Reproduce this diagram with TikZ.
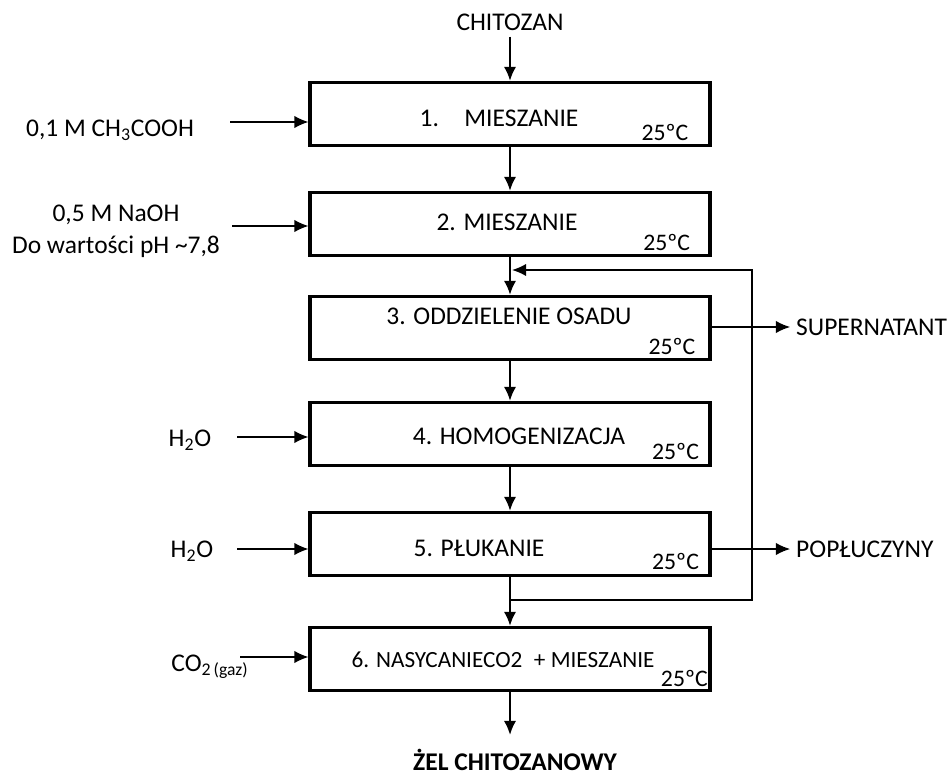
\documentclass[tikz,border=0pt]{standalone}
\usepackage{fontspec}
\setmainfont{Carlito}
\usetikzlibrary{arrows.meta,positioning}

\begin{document}
\begin{tikzpicture}[x=0.02cm,y=-0.02cm,
    font=\fontsize{14.5}{17}\selectfont,
    krok/.style={draw,line width=1.8pt,minimum width=8cm,minimum height=1.26cm},
    temp/.style={anchor=base east,inner sep=0pt,font=\fontsize{13.5}{16}\selectfont},
    glowna/.style={line width=1.3pt,-{Latex[length=8pt,width=7pt]}},
    wlot/.style={line width=0.7pt,-{Latex[length=8pt,width=7pt]}},
    powrot/.style={line width=0.9pt}]
  \useasboundingbox (0,0) rectangle (949,776);

  % etapy procesu
  \node[krok] (k1) at (510,114) {};
  \node[krok] (k2) at (510,224) {};
  \node[krok] (k3) at (510,328) {};
  \node[krok] (k4) at (510,434) {};
  \node[krok] (k5) at (510,544) {};
  \node[krok] (k6) at (510,659) {};

  \node (t1) at (499,118) {1.\quad MIESZANIE};
  \node (t2) at (507,222) {2. MIESZANIE};
  \node (t3) at (509,316) {3. ODDZIELENIE OSADU};
  \node (t4) at (519,436) {4. HOMOGENIZACJA};
  \node (t5) at (479,548) {5. PŁUKANIE};
  \node[font=\fontsize{13.2}{16}\selectfont] (t6) at (503,660) {6. NASYCANIECO2\hspace{0.5em}+ MIESZANIE};

  \node[temp] (c1) at ([xshift=-13pt,yshift=3.5pt]k1.south east) {25ºC};
  \node[temp] (c2) at ([xshift=-12pt,yshift=3.5pt]k2.south east) {25ºC};
  \node[temp] (c3) at ([xshift=-9pt,yshift=3.5pt]k3.south east) {25ºC};
  \node[temp] (c4) at ([xshift=-7pt,yshift=4.5pt]k4.south east) {25ºC};
  \node[temp] (c5) at ([xshift=-7pt,yshift=4.5pt]k5.south east) {25ºC};
  \node[temp] (c6) at ([xshift=-2pt,yshift=3pt]k6.south east) {25ºC};

  % wejscie i wyjscie
  \node (chit) at (510,22) {CHITOZAN};
  \node[font=\fontsize{14.5}{17}\selectfont\bfseries] (zel) at (515,760) {ŻEL CHITOZANOWY};
  \coordinate (koniec) at (510,735);

  \draw[glowna] (chit) -- (k1);
  \draw[glowna] (k1) -- (k2);
  \draw[glowna] (k2) -- (k3);
  \draw[glowna] (k3) -- (k4);
  \draw[glowna] (k4) -- (k5);
  \draw[glowna] (k5) -- (k6);
  \draw[glowna] (k6) -- (koniec);

  % dozowanie z lewej
  \node (we1) at (110,130) {0,1 M CH\textsubscript{3}COOH};
  \node[align=center] (we2) at (116,231) {0,5 M NaOH\\[1pt]Do wartości pH \textasciitilde7,8};
  \node (we4) at (190,440) {H\textsubscript{2}O};
  \node (we5) at (192,551) {H\textsubscript{2}O};
  \node (we6) at (210,667) {CO\textsubscript{2\,{\fontsize{10}{12}\selectfont(gaz)}}};

  \coordinate (p1) at (230,122);
  \coordinate (p2) at (232,226);
  \coordinate (p4) at (237,437);
  \coordinate (p5) at (237,549);
  \coordinate (p6) at (240,657);
  \draw[wlot] (p1) -- (p1 -| k1.west);
  \draw[wlot] (p2) -- (p2 -| k2.west);
  \draw[wlot] (p4) -- (p4 -| k4.west);
  \draw[wlot] (p5) -- (p5 -| k5.west);
  \draw[wlot] (p6) -- (p6 -| k6.west);

  % odbior z prawej
  \node[anchor=west] (sup) at (790,327) {SUPERNATANT};
  \node[anchor=west] (pop) at (790,549) {POPŁUCZYNY};
  \draw[wlot] (sup.west -| k3.east) -- (sup);
  \draw[wlot] (pop.west -| k5.east) -- (pop);

  % zawracanie
  \coordinate (odg) at (510,600);
  \coordinate (rog) at (752,270);
  \coordinate (zwrot) at (512,270);
  \draw[powrot,-{Latex[length=8pt,width=7pt]}] (odg) -| (rog) -- (zwrot);
\end{tikzpicture}
\end{document}
